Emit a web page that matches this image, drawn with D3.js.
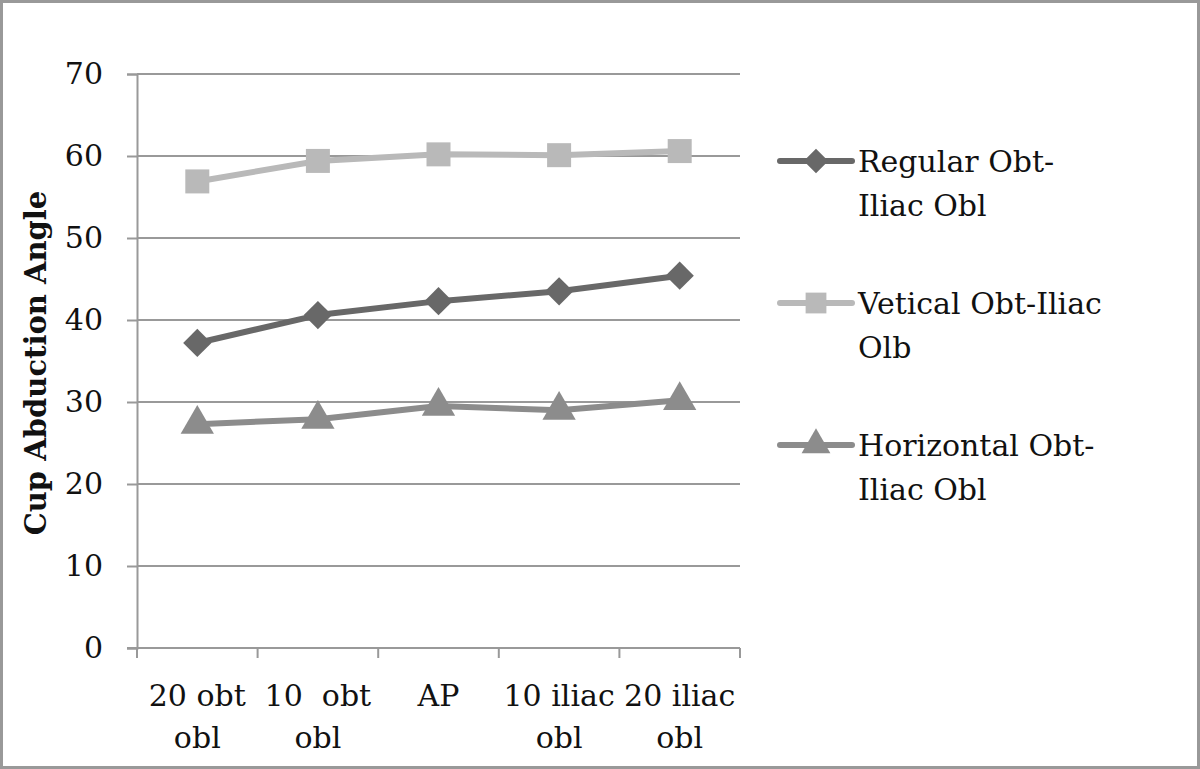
<!DOCTYPE html>
<html><head><meta charset="utf-8">
<script src="https://cdn.jsdelivr.net/npm/d3@7"></script>
<style>html,body{margin:0;padding:0;background:#fff}svg{display:block}</style>
</head><body>
<script>
const categories = [["20 obt","obl"],["10  obt","obl"],["AP",""],["10 iliac","obl"],["20 iliac","obl"]];
const regular = [37.2, 40.6, 42.3, 43.5, 45.4];
const vertical = [56.9, 59.4, 60.2, 60.1, 60.6];
const horizontal = [27.3, 27.9, 29.5, 29.0, 30.2];
const yTicks = [0,10,20,30,40,50,60,70];
const seriesNames = [["Regular Obt-","Iliac Obl"],["Vetical Obt-Iliac","Olb"],["Horizontal Obt-","Iliac Obl"]];
const colors = ["#686868","#b9b9b9","#8c8c8c"];

const W=1200,H=769;
const FONT="'DejaVu Serif', serif";
const FS=30;
const svg=d3.select("body").append("svg").attr("width",W).attr("height",H);
svg.append("rect").attr("x",1.5).attr("y",1.5).attr("width",W-3).attr("height",H-3)
  .attr("fill","#fff").attr("stroke","#999").attr("stroke-width",3);

const x0=137,x1=740,y0=648,y1=74;
const x=d3.scaleBand().domain(d3.range(categories.length)).range([x0,x1]);
const y=d3.scaleLinear().domain([0,70]).range([y0,y1]);
const grid="#999";

// marker shapes: diamond = rotated square
const markers=[
  {type:d3.symbolSquare,size:400,rot:45},
  {type:d3.symbolSquare,size:576,rot:0},
  {type:d3.symbolTriangle,size:480,rot:0}
];

// gridlines
svg.append("g").selectAll("line").data(yTicks.filter(d=>d>0)).join("line")
  .attr("x1",x0).attr("x2",x1).attr("y1",d=>y(d)).attr("y2",d=>y(d))
  .attr("stroke",grid).attr("stroke-width",2);

// y axis
const ya=svg.append("g").attr("transform",`translate(${x0},0)`)
  .call(d3.axisLeft(y).tickValues(yTicks).tickSize(10).tickPadding(24));
ya.select(".domain").attr("stroke",grid).attr("stroke-width",2);
ya.selectAll(".tick line").attr("stroke",grid).attr("stroke-width",2);
ya.selectAll(".tick text").attr("font-family",FONT).attr("font-size",FS).attr("fill","#111");

// x axis
svg.append("line").attr("x1",x0-10).attr("x2",x1).attr("y1",y0).attr("y2",y0).attr("stroke",grid).attr("stroke-width",2);
const bounds=[...d3.range(categories.length).map(i=>x(i)), x1];
svg.append("g").selectAll("line").data(bounds).join("line")
  .attr("x1",d=>d).attr("x2",d=>d).attr("y1",y0).attr("y2",y0+10)
  .attr("stroke",grid).attr("stroke-width",2);
const lab=svg.append("g").selectAll("text").data(categories).join("text")
  .attr("font-family",FONT).attr("font-size",FS).attr("fill","#111").attr("text-anchor","middle");
lab.each(function(d,i){
  const t=d3.select(this);
  d.forEach((s,k)=>{ if(s) t.append("tspan").attr("x",x(i)+x.bandwidth()/2).attr("y",y0+58+k*42).attr("xml:space","preserve").text(s); });
});

// axis title
svg.append("text").attr("transform",`translate(46,${(y0+y1)/2+2}) rotate(-90)`)
  .attr("text-anchor","middle").attr("font-family",FONT).attr("font-weight","bold")
  .attr("font-size",29).attr("fill","#111").text("Cup Abduction Angle");

// series
const data=[regular,vertical,horizontal];
const line=d3.line().x((d,i)=>x(i)+x.bandwidth()/2).y(d=>y(d));
data.forEach((s,k)=>{
  const m=markers[k];
  svg.append("path").datum(s).attr("d",line).attr("fill","none")
    .attr("stroke",colors[k]).attr("stroke-width",6).attr("stroke-linejoin","round");
  svg.append("g").selectAll("path").data(s).join("path")
    .attr("transform",(d,i)=>`translate(${x(i)+x.bandwidth()/2},${y(d)}) rotate(${m.rot})`)
    .attr("d",d3.symbol().type(m.type).size(m.size)).attr("fill",colors[k]);
});

// legend
const ly=[161,303,445];
seriesNames.forEach((n,k)=>{
  const m=markers[k];
  const g=svg.append("g").attr("transform",`translate(780,${ly[k]})`);
  g.append("line").attr("x1",0).attr("x2",72).attr("stroke",colors[k]).attr("stroke-width",6).attr("stroke-linecap","round");
  g.append("path").attr("transform",`translate(36,0) rotate(${m.rot})`).attr("d",d3.symbol().type(m.type).size(m.size*0.75)).attr("fill",colors[k]);
  const t=g.append("text").attr("font-family",FONT).attr("font-size",FS).attr("fill","#111");
  n.forEach((s,j)=>t.append("tspan").attr("x",78).attr("y",11+j*44).text(s));
});
</script>
</body></html>
